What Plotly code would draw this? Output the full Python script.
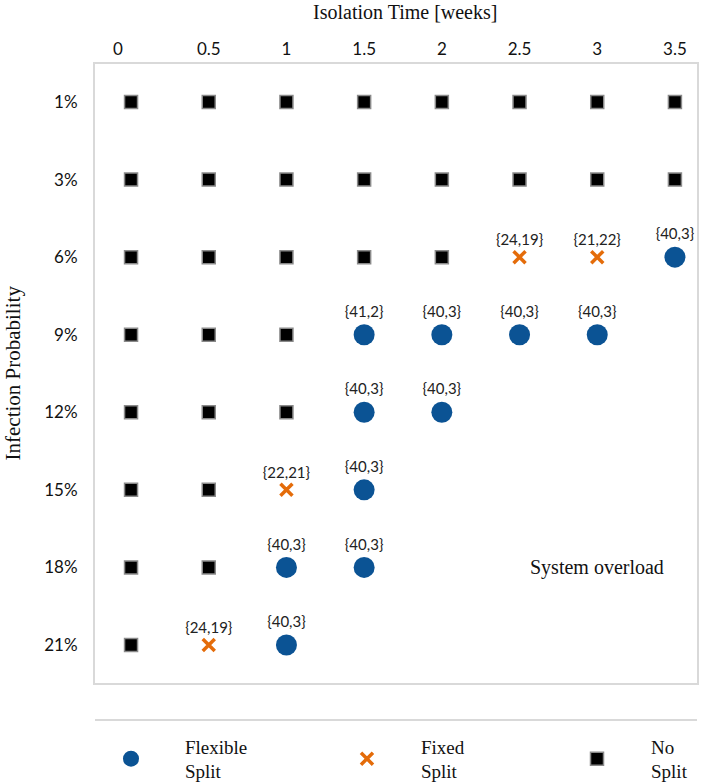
import plotly.graph_objects as go

# Axis categories
isolation_weeks = [0, 0.5, 1, 1.5, 2, 2.5, 3, 3.5]
infection_prob = ["1%", "3%", "6%", "9%", "12%", "15%", "18%", "21%"]

# Flexible split points
flex_x = [3.5, 1.5, 2, 2.5, 3, 1.5, 2, 1.5, 1, 1.5, 1]
flex_y = ["6%", "9%", "9%", "9%", "9%", "12%", "12%", "15%", "18%", "18%", "21%"]
flex_lbl = ["{40,3}", "{41,2}", "{40,3}", "{40,3}", "{40,3}", "{40,3}", "{40,3}",
            "{40,3}", "{40,3}", "{40,3}", "{40,3}"]

# Fixed split points
fixed_x = [2.5, 3, 1, 0.5]
fixed_y = ["6%", "6%", "15%", "21%"]
fixed_lbl = ["{24,19}", "{21,22}", "{22,21}", "{24,19}"]

# No split points
nosplit_x = ([0, 0.5, 1, 1.5, 2, 2.5, 3, 3.5] * 2
             + [0, 0.5, 1, 1.5, 2] + [0, 0.5, 1] + [0, 0.5, 1] + [0, 0.5] + [0, 0.5] + [0])
nosplit_y = (["1%"] * 8 + ["3%"] * 8 + ["6%"] * 5 + ["9%"] * 3 + ["12%"] * 3
             + ["15%"] * 2 + ["18%"] * 2 + ["21%"])

SERIF = "Liberation Serif"
SANS = "Lato"
BLUE = "#0B5394"
ORANGE = "#E46C0A"

fig = go.Figure()
fig.add_trace(go.Scatter(
    x=flex_x, y=flex_y, mode="markers+text", text=flex_lbl, textposition="top center",
    textfont=dict(family=SANS, size=15, color="#222222"),
    marker=dict(symbol="circle", size=21, color=BLUE),
    name="Flexible<br>Split", legend="legend"))
fig.add_trace(go.Scatter(
    x=fixed_x, y=fixed_y, mode="markers+text", text=fixed_lbl, textposition="top center",
    textfont=dict(family=SANS, size=15, color="#222222"),
    marker=dict(symbol="x-thin-open", size=12, color=ORANGE, line=dict(width=3.5, color=ORANGE)),
    name="Fixed<br>Split", legend="legend2"))
fig.add_trace(go.Scatter(
    x=nosplit_x, y=nosplit_y, mode="markers",
    marker=dict(symbol="square", size=13, color="black", line=dict(width=1.5, color="#8a8a8a")),
    name="No<br>Split", legend="legend3"))

fig.add_annotation(x=3, y="18%", text="System overload", showarrow=False,
                   font=dict(family=SERIF, size=20, color="#111111"))
fig.add_annotation(x=0.5, y=1.0, xref="paper", yref="paper", yshift=52, yanchor="middle",
                   xshift=9, text="Isolation Time [weeks]", showarrow=False,
                   font=dict(family=SERIF, size=20, color="#111111"))
fig.add_annotation(x=0, y=0.5, xref="paper", yref="paper", xshift=-83, xanchor="center",
                   yanchor="middle", textangle=-90,
                   text="Infection Probability", showarrow=False,
                   font=dict(family=SERIF, size=21, color="#111111"))
fig.add_shape(type="line", xref="paper", yref="paper", x0=0, x1=1, y0=-0.0598, y1=-0.0598,
              line=dict(color="#d9d9d9", width=2))

leg_common = dict(orientation="v", y=-0.1228, yanchor="middle", xanchor="left",
                  itemwidth=98, bgcolor="rgba(0,0,0,0)",
                  font=dict(family=SERIF, size=19, color="#111111"))

fig.update_layout(
    width=714, height=783,
    margin=dict(l=95, r=17, t=64, b=100, autoexpand=False),
    plot_bgcolor="white", paper_bgcolor="white",
    showlegend=True,
    legend=dict(x=-0.0299, **leg_common),
    legend2=dict(x=0.3621, **leg_common),
    legend3=dict(x=0.7442, **leg_common),
    xaxis=dict(side="top", range=[-0.232, 3.642], tickvals=isolation_weeks,
               ticktext=["0\u00a0\u00a0\u00a0\u00a0\u00a0\u00a0"] + [str(v) for v in isolation_weeks[1:]],
               showgrid=False, zeroline=False, showline=True, mirror=True, automargin=False,
               linecolor="#d9d9d9", linewidth=2, ticks="",
               tickfont=dict(family=SANS, size=17, color="#111111")),
    yaxis=dict(type="category", categoryarray=infection_prob, range=[7.49, -0.49],
               showgrid=False, zeroline=False, showline=True, mirror=True, automargin=False,
               linecolor="#d9d9d9", linewidth=2, ticks="", ticklabelstandoff=12,
               tickfont=dict(family=SANS, size=17, color="#111111")),
)

fig.write_html("out.html", config={"displayModeBar": False},
               post_script="document.body.style.margin='0px';document.body.style.overflow='hidden';")
